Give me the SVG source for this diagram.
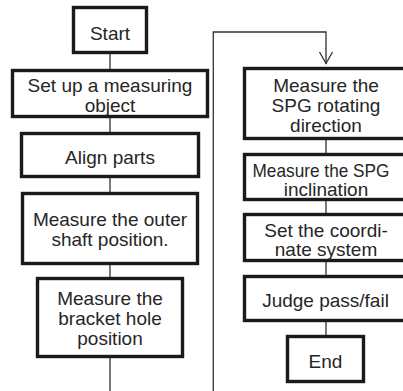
<svg xmlns="http://www.w3.org/2000/svg" width="403" height="391" viewBox="0 0 403 391">
<defs>
<style>
.box{fill:#fff;stroke:#1a1a1a;stroke-width:3.4}
.t{font-family:"Liberation Sans",Arial,Helvetica,sans-serif;font-size:19px;fill:#262626;text-anchor:middle}
.c{fill:none;stroke:#333;stroke-width:1.3}
</style>
</defs>
<rect width="403" height="391" fill="#fff"/>
<g id="connectors">
<path class="c" d="M110,54V69M110,118V132M110,178V192M110,265V277M110,358V391"/>
<path class="c" d="M326,140V153M326,201V213M326,262V275M326,322V335"/>
<path class="c" d="M213.3,391V32H326V64"/>
<path class="c" d="M319.5,52L326,63.5L332.5,52"/>
</g>
<g id="start"><rect class="box" x="73.5" y="7.5" width="73" height="45"/><text class="t" x="110" y="40">Start</text></g>
<g id="setup"><rect class="box" x="12.5" y="70.5" width="195" height="46"/><text class="t" x="110" y="92">Set up a measuring</text><text class="t" x="110" y="112">object</text></g>
<g id="align"><rect class="box" x="21.5" y="133.5" width="177" height="43"/><text class="t" x="110" y="164">Align parts</text></g>
<g id="outer"><rect class="box" x="22.5" y="193.5" width="175" height="70"/><text class="t" x="110" y="226">Measure the outer</text><text class="t" x="110" y="245.5">shaft position.</text></g>
<g id="bracket"><rect class="box" x="37.5" y="278.5" width="145" height="78"/><text class="t" x="110" y="305">Measure the</text><text class="t" x="110" y="325">bracket hole</text><text class="t" x="110" y="345">position</text></g>
<g id="rotating"><rect class="box" x="244.5" y="68.5" width="163" height="70"/><text class="t" x="326" y="92">Measure the</text><text class="t" x="326" y="112">SPG rotating</text><text class="t" x="326" y="132">direction</text></g>
<g id="inclination"><rect class="box" x="244.5" y="154.5" width="163" height="45"/><text class="t" x="321" y="177" textLength="137" lengthAdjust="spacingAndGlyphs">Measure the SPG</text><text class="t" x="326" y="196">inclination</text></g>
<g id="coord"><rect class="box" x="244.5" y="214.5" width="163" height="46"/><text class="t" x="326" y="237">Set the coordi-</text><text class="t" x="326" y="256">nate system</text></g>
<g id="judge"><rect class="box" x="244.5" y="276.5" width="163" height="44"/><text class="t" x="325.5" y="306.5">Judge pass/fail</text></g>
<g id="end"><rect class="box" x="287.5" y="336.5" width="76" height="45"/><text class="t" x="325.5" y="368">End</text></g>
</svg>
